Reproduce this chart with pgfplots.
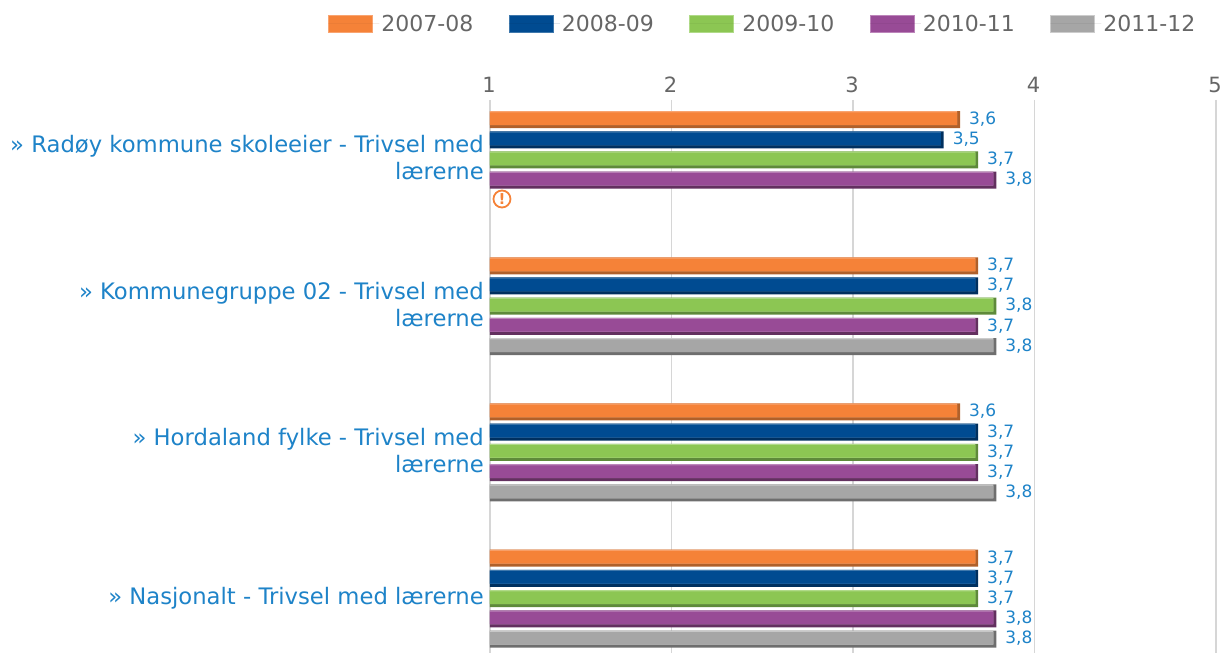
\documentclass[border=0pt]{standalone}
\usepackage{pgfplots}
\usepackage{pgfplotstable}
\usepackage{fontspec}
\setmainfont{DejaVu Sans}
\pgfplotsset{compat=1.18}
\definecolor{cA}{HTML}{F58238}\definecolor{dA}{HTML}{B0602A}\definecolor{lA}{HTML}{F9A470}
\definecolor{cB}{HTML}{004B91}\definecolor{dB}{HTML}{00305F}\definecolor{lB}{HTML}{3F78AC}
\definecolor{cC}{HTML}{8CC653}\definecolor{dC}{HTML}{5E8A3A}\definecolor{lC}{HTML}{B0DA88}
\definecolor{cD}{HTML}{984B96}\definecolor{dD}{HTML}{63305F}\definecolor{lD}{HTML}{BC85BA}
\definecolor{cE}{HTML}{A6A6A6}\definecolor{dE}{HTML}{6E6E6E}\definecolor{lE}{HTML}{CCCCCC}
\definecolor{lnk}{HTML}{1E83C8}
\definecolor{tick}{HTML}{666666}
\pgfplotstableread{
g v lab
0 3.59 3,6
1 3.69 3,7
2 3.59 3,6
3 3.69 3,7
}\tA
\pgfplotstableread{
g v lab
0 3.50 3,5
1 3.69 3,7
2 3.69 3,7
3 3.69 3,7
}\tB
\pgfplotstableread{
g v lab
0 3.69 3,7
1 3.79 3,8
2 3.69 3,7
3 3.69 3,7
}\tC
\pgfplotstableread{
g v lab
0 3.79 3,8
1 3.69 3,7
2 3.69 3,7
3 3.79 3,8
}\tD
\pgfplotstableread{
g v lab
1 3.79 3,8
2 3.79 3,8
3 3.79 3,8
}\tE
\newcommand{\series}[6]{%
 \addplot[fill=#2,draw=none,bar width=17pt,bar shift=#4pt,
   legend image code/.code={\filldraw[fill=#1,draw=#3,line width=0.8pt] (0pt,-8.5pt) rectangle (44pt,8.5pt);\path (0pt,0pt) -- (51pt,0pt);},
   point meta=explicit symbolic,
   nodes near coords={\pgfplotspointmeta},
   nodes near coords style={anchor=west,font=\fontsize{17}{17}\selectfont,text=lnk,xshift=9pt,yshift=0.5pt,inner sep=0pt,outer sep=0pt}]
   table[x=v,y=g,meta=lab]{#5};
 \addlegendentry{#6}
 \addplot[forget plot,fill=#3,draw=none,bar width=14pt,bar shift=#4pt+1.5pt]
   table[x expr=\thisrow{v}-0.016,y=g]{#5};
 \addplot[forget plot,fill=#1,draw=none,bar width=12.5pt,bar shift=#4pt+1pt]
   table[x expr=\thisrow{v}-0.016,y=g]{#5};
}
\begin{document}
\begin{tikzpicture}
\path[use as bounding box] (-490pt,0pt) rectangle (732pt,653pt);
\begin{axis}[
 at={(0pt,0pt)},anchor=south west,
 scale only axis,width=726pt,height=553pt,
 xmin=1,xmax=5,
 y dir=reverse,ymin=-0.41,ymax=3.372,
 xbar,
 axis line style={draw=none},
 xtick={1,2,3,4,5},
 xticklabel pos=top,
 major tick length=0pt,
 xmajorgrids,
 /pgf/number format/assume math mode=true,
 grid style={draw=black!16,line width=1.5pt},
 xticklabel style={font=\fontsize{21}{21}\selectfont,text=tick,inner sep=0pt,xshift=-1pt,yshift=1.5pt},
 xticklabel shift=6pt,
 ytick={-0.017,0.99,1.99,3},
 yticklabels={{» Radøy kommune skoleeier - Trivsel med\\lærerne},{» Kommunegruppe 02 - Trivsel med\\lærerne},{» Hordaland fylke - Trivsel med\\lærerne},{» Nasjonalt - Trivsel med lærerne}},
 yticklabel style={font=\fontsize{22.7}{27}\selectfont,text=lnk,align=right,inner sep=0pt,xshift=-6pt},
 legend columns=5,
 legend cell align=left,
 legend style={draw=none,fill=none,at={(rel axis cs:0,1)},anchor=north west,
   font=\fontsize{22}{22}\selectfont,text=tick,
   /tikz/every even column/.append style={column sep=33.2pt},
   xshift=-162pt,yshift=87pt,inner sep=0pt,outer sep=0pt},
]
\series{cA}{dA}{lA}{40.4}{\tA}{2007-08}
\series{cB}{dB}{lB}{20.2}{\tB}{2008-09}
\series{cC}{dC}{lC}{0}{\tC}{2009-10}
\series{cD}{dD}{lD}{-20.2}{\tD}{2010-11}
\series{cE}{dE}{lE}{-40.4}{\tE}{2011-12}
\node[circle,draw=cA,line width=1.8pt,minimum size=17pt,inner sep=0pt,text=cA,
    font=\bfseries\fontsize{15}{15}\selectfont] at (axis cs:1.066,0.267) {!};
\end{axis}
\end{tikzpicture}
\end{document}
